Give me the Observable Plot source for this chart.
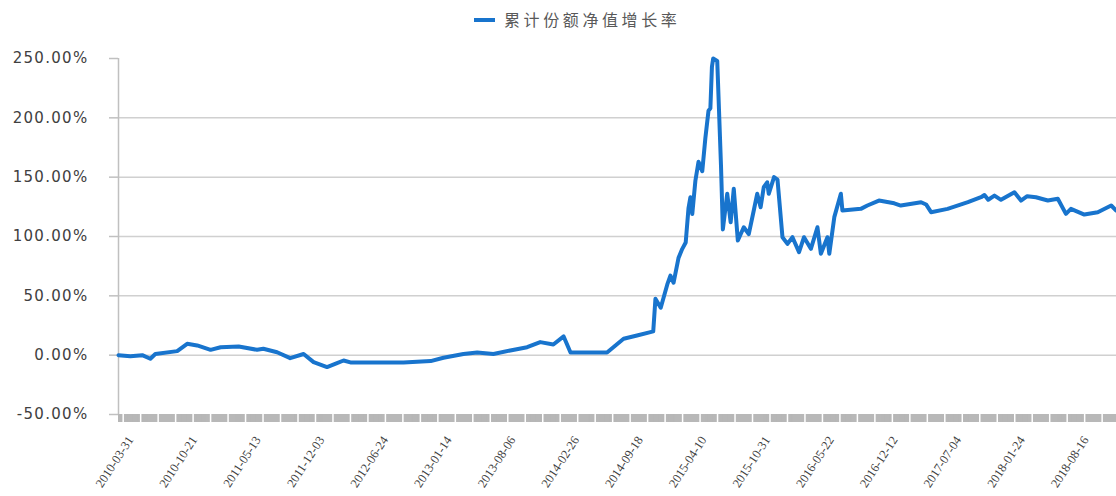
<!DOCTYPE html>
<html>
<head>
<meta charset="utf-8">
<script src="https://cdn.jsdelivr.net/npm/d3@7"></script>
<script src="https://cdn.jsdelivr.net/npm/@observablehq/plot@0.6"></script>
<style>
  body { margin: 0; background: #fff; }
  #legend { height: 40px; position: relative; font-family: "Noto Sans CJK SC", sans-serif; }
  #legend .sw { position: absolute; left: 474px; top: 18px; width: 21px; height: 4px; background: #1874cd; }
  #legend .lb { position: absolute; left: 504px; top: 7px; font-size: 16px; letter-spacing: 3.6px; color: #595959; line-height: 24px; }
  svg [aria-label="y-axis tick label"] text { letter-spacing: 1.3px; }
</style>
</head>
<body>
<div id="legend"><span class="sw"></span><span class="lb">累计份额净值增长率</span></div>
<div id="chart"></div>
<script>
const seriesName = "累计份额净值增长率";
const dates = [
  "2010-03-31","2010-05-08","2010-06-15","2010-07-11","2010-07-27","2010-10-05","2010-11-06","2010-12-08",
  "2011-01-20","2011-02-21","2011-04-20","2011-06-18","2011-07-08","2011-08-21","2011-10-02","2011-11-14","2011-12-16",
  "2012-01-28","2012-02-29","2012-03-21","2012-04-12","2012-09-29","2012-12-25",
  "2013-02-04","2013-04-09","2013-05-23","2013-07-14","2013-09-06","2013-10-30","2013-12-11",
  "2014-01-22","2014-02-24","2014-03-18","2014-04-29","2014-07-13","2014-09-04","2014-10-17","2014-11-29","2014-12-08","2014-12-15",
  "2015-01-01","2015-01-22","2015-02-01","2015-02-11","2015-02-27","2015-03-11","2015-03-22","2015-03-31","2015-04-06",
  "2015-04-12","2015-04-22","2015-05-02","2015-05-14","2015-05-24",
  "2015-06-03","2015-06-09","2015-06-14","2015-06-18","2015-07-01","2015-07-13","2015-07-19","2015-08-02","2015-08-13",
  "2015-08-23","2015-09-05","2015-09-24","2015-10-10","2015-10-26","2015-11-06","2015-11-17","2015-11-27","2015-12-08",
  "2015-12-13","2015-12-30",
  "2016-01-10","2016-01-26","2016-02-11","2016-02-27","2016-03-19","2016-04-04","2016-04-26","2016-05-17","2016-05-28",
  "2016-06-18","2016-06-24","2016-07-10","2016-07-31","2016-08-05","2016-10-03","2016-10-24","2016-11-30",
  "2017-01-18","2017-02-08","2017-04-14","2017-04-30","2017-05-16","2017-07-08","2017-09-11","2017-10-23",
  "2017-11-03","2017-11-15","2017-12-05","2017-12-26",
  "2018-02-07","2018-02-28","2018-03-20","2018-04-17","2018-05-25","2018-06-26","2018-07-22","2018-08-07","2018-09-19","2018-11-01","2018-12-14","2018-12-30"
];
const growth = [
  0,-1,0,-3,1,3.4,9.6,8.2,
  4.5,6.7,7.3,4.5,5.4,2.5,-2.5,1,-5.9,
  -10,-6.7,-4.5,-6.1,-6.1,-5,
  -2.2,1,2.3,1,4,6.7,11,
  9,15.8,2.3,2.3,2.3,13.8,16.6,19.4,20,47.5,
  40,59.6,67,61,82,89.6,95,124,133,
  119,147,163,155,183,
  206,208,243,250,248,160,106,136,112,
  140.2,96.6,107.8,102,121.9,136,124.7,141.5,145.7,
  136,150,
  148,99.4,93.8,99.4,86.8,99.4,89.6,107.8,85.4,
  99.4,85.4,116.3,136,121.9,123.3,126.1,130.3,
  128,126.1,128.9,127,120.5,123.3,128.9,133.1,
  135,131,134.5,130.9,
  137.3,130.3,134,133.1,130.3,131.8,119.1,123.3,118.5,120.5,126.1,121.9
];
const xTickLabels = [
  "2010-03-31","2010-10-21","2011-05-13","2011-12-03","2012-06-24","2013-01-14","2013-08-06","2014-02-26",
  "2014-09-18","2015-04-10","2015-10-31","2016-05-22","2016-12-12","2017-07-04","2018-01-24","2018-08-16"
];
const yTicks = [-50, 0, 50, 100, 150, 200, 250];
const gridValues = [0, 50, 100, 150, 200];
const xStart = "2010-03-31";
const xEnd = "2018-12-31";

const parse = d3.utcParse("%Y-%m-%d");
const data = dates.map((d, i) => ({date: parse(d), value: growth[i]}));
const start = parse(xStart), end = parse(xEnd);
const allDays = d3.utcDay.range(start, d3.utcDay.offset(end, 1));
const separators = d3.range(15, allDays.length, 56).map(k => allDays[k]);

const chart = Plot.plot({
  width: 1116,
  height: 456,
  marginLeft: 118,
  marginRight: 0,
  marginTop: 18,
  marginBottom: 82,
  style: {background: "#fff"},
  x: {type: "utc", domain: [start, end]},
  y: {domain: [-50, 250]},
  marks: [
    Plot.ruleY(gridValues, {stroke: "#d0d0d0", strokeWidth: 1.5}),
    Plot.ruleX([start], {y1: -50, y2: 250, stroke: "#c0c0c0", strokeWidth: 1.5}),
    Plot.axisY({ticks: yTicks, tickSize: 9, tickPadding: 21, stroke: "#c0c0c0", strokeWidth: 1.5,
      tickFormat: d => d.toFixed(2) + "%", fontSize: 15, fontFamily: "DejaVu Sans", fill: "#404040", label: null}),
    Plot.axisX({ticks: allDays, tickSize: 8, stroke: "#b8b8b8", strokeWidth: 1, tickFormat: () => "", label: null}),
    Plot.axisX({ticks: separators, tickSize: 8, stroke: "#fff", strokeWidth: 1.5, tickFormat: () => "", label: null}),
    Plot.axisX({ticks: xTickLabels.map(parse), tickSize: 0, tickRotate: -57, tickPadding: 23, dx: 12,
      tickFormat: d3.utcFormat("%Y-%m-%d"), fontSize: 12.5, fontFamily: "Liberation Serif", fill: "#404040", label: null}),
    Plot.line(data, {x: "date", y: "value", stroke: "#1874cd", strokeWidth: 4, strokeLinejoin: "round", strokeLinecap: "round"})
  ]
});
document.getElementById("chart").appendChild(chart);
</script>
</body>
</html>
